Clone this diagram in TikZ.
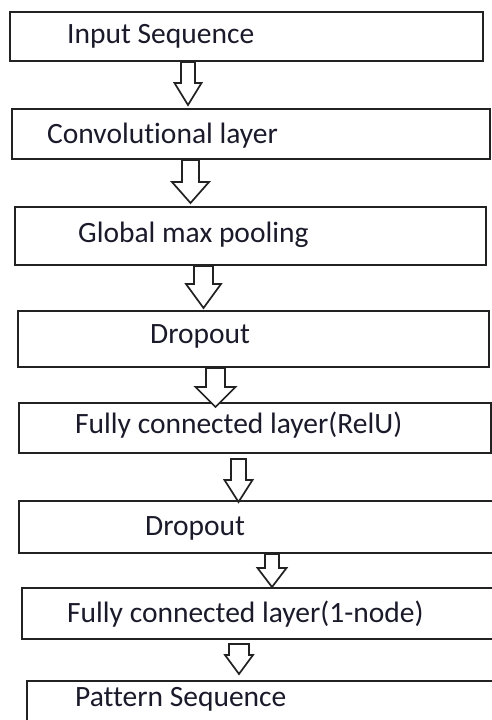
\documentclass[tikz,border=0pt]{standalone}
\usepackage{fontspec}
\setmainfont{Carlito}[Ligatures={NoCommon}]
\usetikzlibrary{calc}
\definecolor{ln}{HTML}{222222}
\definecolor{tx}{HTML}{1A1A2A}
\tikzset{
  box/.style={draw=ln, line width=1.9pt, fill=white, rectangle, inner sep=0pt, anchor=north west},
  lbl/.style={inner sep=0pt, anchor=base west, text=tx, font=\fontsize{29.5}{35}\selectfont},
  barrow/.style={draw=ln, line width=1.7pt, fill=white, line join=miter}
}
% #1 from, #2 to, #3 centre x, #4 shaft half, #5 head half, #6 top gap, #7 head length, #8 tip offset above target top
\newcommand{\blk}[8]{%
  \coordinate (cx) at (#3,0);
  \path (#1.south -| cx) ++(0,-#6) coordinate (T);
  \path (#2.north -| cx) ++(0,#8) coordinate (P);
  \draw[barrow] ($(T)+(-#4,0)$) -- ($(P)+(-#4,#7)$) -- ($(P)+(-#5,#7)$) -- (P)
     -- ($(P)+(#5,#7)$) -- ($(P)+(#4,#7)$) -- ($(T)+(#4,0)$) -- cycle;
}
\begin{document}
\begin{tikzpicture}[x=1pt,y=1pt]
\useasboundingbox (0,0) rectangle (492,-720);
\clip (0,0) rectangle (492,-720);
\fill[white] (0,0) rectangle (492,-720);

\node[box, minimum width=473, minimum height=49] (b1) at (9,-11) {};
\node[box, minimum width=478, minimum height=50] (b2) at (11,-108) {};
\node[box, minimum width=471, minimum height=58] (b3) at (14,-206) {};
\node[box, minimum width=471, minimum height=56] (b4) at (17,-310) {};
\node[box, minimum width=472, minimum height=50] (b5) at (18,-402) {};
\node[box, minimum width=490, minimum height=52] (b6) at (18,-500) {};
\node[box, minimum width=490, minimum height=51] (b7) at (21,-587) {};
\node[box, minimum width=490, minimum height=60] (b8) at (26,-680) {};

\blk{b1}{b2}{188}{7}{13.5}{0}{22}{3}
\blk{b2}{b3}{190.5}{8.5}{18.5}{0}{21}{3}
\blk{b3}{b4}{203.5}{9.5}{17.5}{0}{24}{2}
\blk{b4}{b5}{215.5}{9.5}{20}{0}{20}{-5}
\blk{b5}{b6}{238.5}{7.5}{14}{5}{22}{-2}
\blk{b6}{b7}{272}{7}{14.5}{0}{19}{0}
\blk{b7}{b8}{239}{10}{14}{4}{19}{6}

\node[lbl] (t1) at (67,-43) {Input Sequence};
\node[lbl] (t2) at (47,-143) {Convolutional layer};
\node[lbl] (t3) at (78,-242) {Global max pooling};
\node[lbl] (t4) at (150,-343) {Dropout};
\node[lbl] (t5) at (75,-433) {Fully connected layer(RelU)};
\node[lbl] (t6) at (145,-535) {Dropout};
\node[lbl] (t7) at (67,-622) {Fully connected layer(1-node)};
\node[lbl] (t8) at (75,-706) {Pattern Sequence};
\end{tikzpicture}
\end{document}
